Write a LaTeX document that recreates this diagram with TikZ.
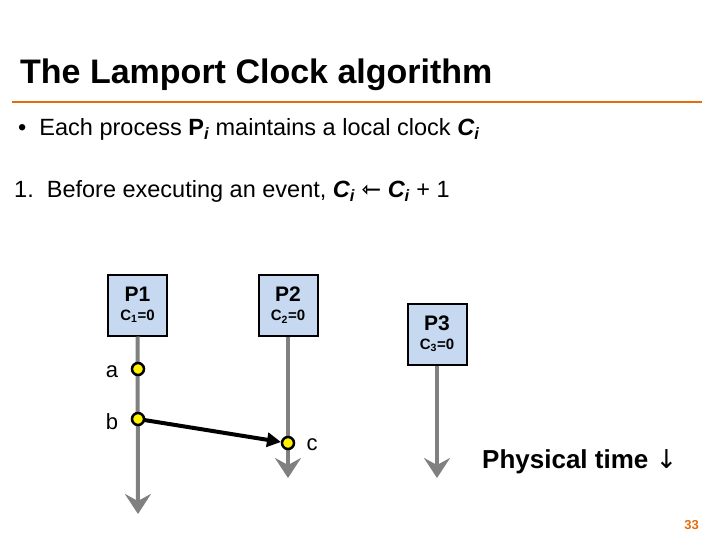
\documentclass[tikz,border=0pt]{standalone}
\usepackage{fontspec}
\setmainfont{Liberation Sans}
\newfontfamily\symf{DejaVu Sans}
\usetikzlibrary{arrows.meta}
\definecolor{boxfill}{HTML}{C6D9F1}
\definecolor{orng}{HTML}{E46C0A}
\definecolor{tl}{HTML}{808080}
\begin{document}
\begin{tikzpicture}[x=1pt,y=-1pt,
  proc/.style={draw=black,line width=2pt,fill=boxfill,minimum width=59pt,minimum height=61pt,align=center,inner sep=0pt},
  tline/.style={draw=tl,line width=4pt,-{Stealth[length=20pt,width=26pt,inset=7pt]}},
  ev/.style={circle,draw=black,line width=2.5pt,fill=yellow,minimum size=12pt,inner sep=0pt},
  lbl/.style={font=\fontsize{22}{22}\selectfont}]
\useasboundingbox (0,0) rectangle (720,540);
\node[anchor=base west,font=\fontsize{34}{34}\selectfont\bfseries,inner sep=0pt] (title) at (20,84) {The Lamport Clock algorithm};
\draw[orng,line width=2pt] (12,102) -- (702,102);
\node[anchor=base west,font=\fontsize{23.5}{23.5}\selectfont,inner sep=0pt] (l1) at (18,136) {•\ \ Each process \textbf{P\textit{\textsubscript{i}}} maintains a local clock \textbf{\textit{C\textsubscript{i}}}};
\node[anchor=base west,font=\fontsize{23.5}{23.5}\selectfont,inner sep=0pt] (l2) at (14,198) {1.\ \ Before executing an event, \textbf{\textit{C\textsubscript{i}}} {\symf\bfseries ⇽} \textbf{\textit{C\textsubscript{i}}} + 1};
\node[proc] (p1) at (137.5,305) {\fontsize{21}{22}\selectfont\bfseries P1\\[7pt]\fontsize{15}{15}\selectfont\bfseries C\textsubscript{1}=0};
\node[proc] (p2) at (288,305) {\fontsize{21}{22}\selectfont\bfseries P2\\[7pt]\fontsize{15}{15}\selectfont\bfseries C\textsubscript{2}=0};
\node[proc] (p3) at (437,334) {\fontsize{21}{22}\selectfont\bfseries P3\\[7pt]\fontsize{15}{15}\selectfont\bfseries C\textsubscript{3}=0};
\coordinate (e1) at (138,514);
\coordinate (e2) at (288,478);
\coordinate (e3) at (437,478);
\draw[tline] (p1.south) -- (e1);
\draw[tline] (p2.south) -- (e2);
\draw[tline] (p3.south) -- (e3);
\draw[line width=4pt,-{Triangle[length=14pt,width=14pt]}] (138,419) -- (281,442);
\node[ev] (a) at (138,369) {};
\node[ev] (b) at (138,419) {};
\node[ev] (c) at (288,443) {};
\node[lbl] at (112,372) {a};
\node[lbl] at (112,422) {b};
\node[lbl] at (312,445) {c};
\node[anchor=base west,font=\fontsize{26}{26}\selectfont\bfseries,inner sep=0pt] (pt) at (482,468) {Physical time {\symf\mdseries ↓}};
\node[anchor=base east,font=\fontsize{13}{13}\selectfont\bfseries,text=orng,inner sep=0pt] (pg) at (699,529) {33};
\end{tikzpicture}
\end{document}
